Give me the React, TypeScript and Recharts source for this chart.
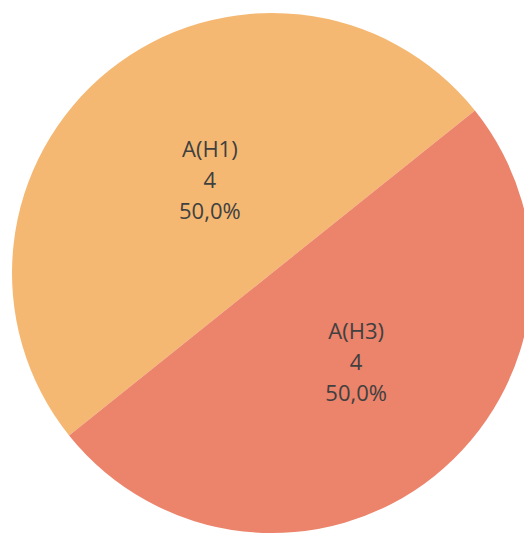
import { PieChart, Pie, Cell } from "recharts";

const names = ["A(H1)", "A(H3)"];
const counts = [4, 4];
const colors = ["#F5B873", "#EC836B"];

const data = names.map((name, i) => ({ name, value: counts[i] }));
const total = counts.reduce((a, b) => a + b, 0);

const RADIAN = Math.PI / 180;

const renderLabel = (props: any) => {
  const { cx, cy, midAngle, outerRadius, name, value } = props;
  const r = outerRadius * 0.45;
  const x = cx + r * Math.cos(-midAngle * RADIAN) + 11;
  const y = cy + r * Math.sin(-midAngle * RADIAN) - 2;
  const pct = ((value / total) * 100).toFixed(1).replace(".", ",") + "%";
  return (
    <text
      x={x}
      y={y}
      textAnchor="middle"
      fill="#404040"
      fontSize={22}
      fontFamily="'Open Sans', sans-serif"
    >
      <tspan x={x} dy={-23}>{name}</tspan>
      <tspan x={x} dy={31}>{value}</tspan>
      <tspan x={x} dy={31}>{pct}</tspan>
    </text>
  );
};

export default function App() {
  return (
    <div style={{ position: "absolute", left: 0, top: 0, background: "#fff" }}>
      <PieChart width={524} height={534} margin={{ top: 0, right: 0, bottom: 0, left: 0 }}>
        <Pie
          data={data}
          dataKey="value"
          nameKey="name"
          cx={272}
          cy={273}
          outerRadius={260}
          startAngle={38.7}
          endAngle={398.7}
          stroke="none"
          label={renderLabel}
          labelLine={false}
          isAnimationActive={false}
        >
          {data.map((d, i) => (
            <Cell key={d.name} fill={colors[i]} />
          ))}
        </Pie>
      </PieChart>
    </div>
  );
}
